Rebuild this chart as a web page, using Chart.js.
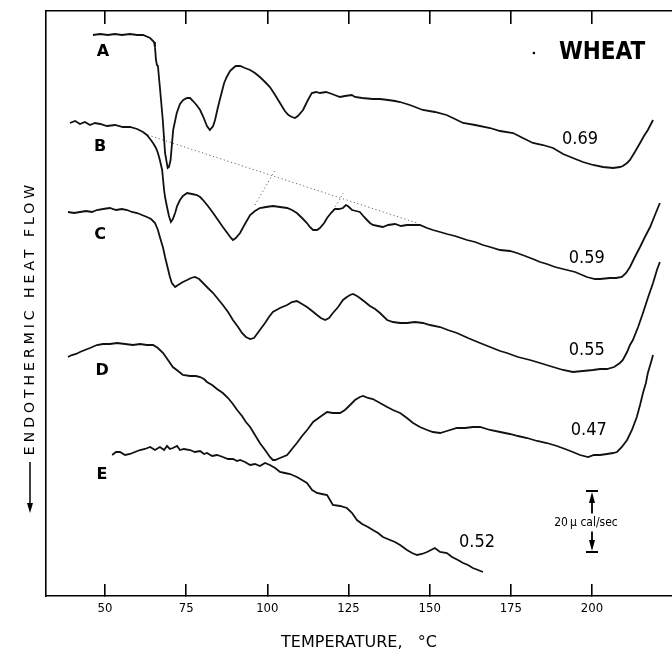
<!DOCTYPE html>
<html><head><meta charset="utf-8">
<script src="https://cdn.jsdelivr.net/npm/chart.js@4/dist/chart.umd.min.js"></script>
<style>html,body{margin:0;padding:0;background:#fff}</style>
</head><body>
<canvas id="c" width="672" height="656" style="width:672px;height:656px;display:block"></canvas>
<script>
// Temperature (°C) and relative endothermic heat flow (arbitrary units, offset per curve)
const tempA=[46.3,48.5,50.9,53.1,55.2,57.7,59.9,61.7,63.9,65.1,65.4,65.7,66.0,66.3,66.9,67.8,68.5,69.3,69.7,70.2,71.0,72.1,73.1,74.1,75.3,76.2,77.1,78.2,79.3,80.3,81.4,82.3,83.3,83.9,84.8,85.9,86.7,87.5,88.5,89.5,90.3,91.6,93.1,94.7,96.2,97.7,99.3,100.8,102.4,103.9,105.4,106.5,107.6,108.5,109.4,111.0,112.5,113.7,115.0,116.2,118.1,119.9,122.4,123.9,126.0,127.0,129.2,132.5,134.7,137.2,139.3,140.9,143.9,147.9,151.6,155.2,157.8,160.3,164.0,168.6,171.7,175.7,178.7,181.8,184.9,188.0,191.1,194.1,197.2,200.3,203.4,206.5,208.6,209.5,210.8,211.7,213.2,214.8,216.0,217.2,218.8];
const flowA=[561,562,561,562,561,562,561,561,558,554,549,536,531,530,509,476,443,428,429,436,466,483,492,496,498,498,495,491,486,479,470,466,470,476,489,503,513,519,525,528,530,530,528,526,523,519,514,509,501,493,485,481,479,478,480,486,496,503,504,503,504,502,499,500,501,499,498,497,497,496,495,494,491,486,484,481,477,473,471,468,465,463,458,453,451,448,442,438,434,431,429,428,429,430,433,436,444,453,460,466,476];
const tempB=[39.2,40.8,42.3,43.8,45.4,46.9,48.5,50.6,53.1,55.5,57.7,59.9,61.7,62.9,63.9,64.8,65.7,66.3,66.9,67.6,67.9,68.2,68.5,69.1,69.7,70.3,70.9,71.6,72.2,73.1,74.0,75.3,76.8,78.3,79.3,80.2,81.7,83.3,84.8,86.3,87.9,88.8,89.4,90.3,91.6,93.1,94.7,96.2,97.7,99.6,101.7,103.9,106.1,107.6,109.1,110.7,112.2,113.1,114.1,115.3,116.2,117.5,118.4,119.6,120.8,122.1,123.3,124.2,124.8,126.1,127.3,128.5,129.8,130.7,131.6,132.5,134.1,135.6,137.2,139.3,141.2,143.0,145.5,147.0,149.2,151.0,153.2,155.3,157.8,161.5,164.0,166.4,168.6,171.7,174.7,176.9,179.4,181.8,184.0,186.1,188.6,192.3,194.8,198.4,200.9,202.5,205.5,207.4,209.2,210.5,211.7,213.2,214.8,216.3,217.9,219.4,220.9];
const flowB=[473,475,472,474,471,473,472,470,471,469,469,467,464,461,457,453,448,443,436,426,416,406,399,389,380,374,377,383,390,396,400,403,402,401,399,396,390,383,376,369,362,358,356,358,363,372,381,385,388,389,390,389,388,386,383,378,373,369,366,366,368,373,378,383,387,387,388,391,390,386,385,384,379,376,373,371,370,369,371,372,370,371,371,371,368,366,364,362,360,356,354,351,349,346,345,343,340,337,334,332,329,326,324,319,317,317,318,318,319,323,329,339,349,359,369,381,393];
const tempC=[38.6,40.5,42.3,44.2,46.0,47.5,49.4,51.5,53.4,55.2,56.8,58.3,59.9,61.4,62.9,64.2,65.4,66.3,66.9,67.9,68.5,69.4,70.0,70.6,71.6,72.5,74.0,75.3,76.5,77.7,79.0,80.2,81.7,83.3,84.8,86.3,87.9,89.4,91.0,92.2,93.4,94.7,95.9,96.8,97.7,99.3,100.5,101.7,103.9,106.1,107.6,109.1,110.7,112.2,113.8,115.3,116.5,117.8,119.0,120.2,121.8,123.3,124.5,125.5,126.4,127.6,128.5,130.1,131.6,133.2,134.7,136.9,138.7,140.9,143.0,145.5,147.9,150.1,153.2,155.6,158.4,161.8,165.5,168.6,171.7,173.8,177.2,180.9,184.0,188.0,191.1,194.1,197.2,200.3,202.5,204.6,206.8,208.6,209.5,210.8,211.7,212.6,214.2,215.7,217.2,218.8,220.0,220.9];
const flowC=[384,383,384,385,384,386,387,388,386,387,386,384,383,381,379,377,373,366,359,348,339,327,319,313,309,311,314,316,318,319,317,313,308,303,297,291,284,276,269,263,259,257,258,262,266,273,279,284,288,291,294,295,292,289,285,281,278,276,278,283,289,296,299,301,302,300,298,294,290,287,283,276,274,273,273,274,273,271,269,266,263,258,253,249,245,243,239,236,233,229,226,224,225,226,227,227,229,233,236,244,251,256,269,283,298,313,326,334];
const tempD=[38.6,39.8,41.1,42.3,43.8,45.4,47.5,49.4,51.5,53.7,56.2,58.6,60.8,62.9,64.8,66.3,67.9,69.4,70.9,72.5,74.0,76.2,78.0,79.3,80.5,81.4,83.0,84.5,86.3,87.9,89.4,90.7,92.2,93.4,94.7,96.2,97.7,99.3,100.8,101.7,102.4,103.9,106.1,107.6,109.1,110.7,112.5,114.1,116.2,118.4,120.2,122.4,123.9,125.5,127.0,128.5,129.5,131.0,132.5,134.7,136.9,138.7,140.9,143.0,144.9,147.0,149.2,151.0,153.2,155.3,158.4,160.9,163.3,165.5,168.6,171.7,174.7,177.2,180.0,183.1,186.1,189.2,191.7,194.1,196.3,198.8,200.6,202.5,204.6,206.5,207.7,209.2,210.8,212.3,213.8,214.8,215.7,216.6,217.2,218.2,218.8];
const flowD=[239,241,242,244,246,248,251,252,252,253,252,251,252,251,251,248,243,236,229,225,221,220,220,219,217,214,211,207,203,198,192,186,180,174,169,161,153,146,139,136,136,138,141,147,153,160,167,174,179,184,183,183,186,191,196,199,200,198,197,193,189,186,183,178,173,169,166,164,163,165,168,168,169,169,166,164,162,160,158,155,153,150,147,144,141,139,141,141,142,143,144,149,156,166,179,191,203,213,223,234,241];
const tempE=[52.2,53.4,54.6,56.2,57.7,59.2,60.8,62.3,63.9,65.4,66.9,68.2,69.1,70.0,70.9,72.2,73.1,74.3,76.2,77.7,79.3,80.5,81.4,83.0,84.5,86.3,87.9,89.4,90.7,91.6,93.1,94.7,96.2,97.7,99.3,100.8,102.4,103.9,105.4,107.0,109.1,110.7,112.2,113.8,115.3,116.8,118.4,119.3,120.2,122.4,124.5,126.1,127.6,129.2,131.0,132.5,134.1,135.6,137.8,139.3,140.9,143.0,144.6,146.1,147.6,149.2,150.4,151.6,153.2,155.3,156.9,158.7,160.3,161.8,163.3,164.9,166.4];
const flowE=[141,144,144,141,142,144,146,147,149,146,149,146,150,147,148,150,146,147,146,144,145,142,143,140,141,139,137,137,135,136,134,131,132,130,133,131,128,124,123,122,119,116,113,106,103,102,101,96,91,90,88,83,76,72,69,66,63,59,56,54,51,46,43,41,42,44,46,48,44,43,39,36,33,31,28,26,24];

// Dotted baseline constructions on curve B
const baseTemps1=[63.2,146.1], baseFlows1=[461,373];
const baseTemps2=[96.2,102.4], baseFlows2=[391,426];
const baseTemps3=[120.3,123.4], baseFlows3=[386,403];

// Axis ticks and labels
const xTicks=[50,75,100,125,150,175,200];
const curveLetters=['A','B','C','D','E'];
const letterTemps=[49.4,48.5,48.5,49.1,49.1];
const letterFlows=[544,449,361,225,121];
const moistureLabels=['0.69','0.59','0.55','0.47','0.52'];
const moistureTemps=[196.3,198.4,198.4,199.0,164.6];
const moistureFlows=[457,338,246,166,54];
// Scale bar: 20 µcal/sec
const barTemp=200, barTop=105, barBottom=44, barText='20\u2009\u03bc cal/sec';
const titleText='WHEAT', titleTemp=203.1, titleFlow=543, dotTemp=182.1;

const X_MIN=31.83, X_MAX=224.64;
const pts=(ts,vs)=>ts.map((t,i)=>({x:t,y:vs[i]}));
const curve=(ts,vs)=>({data:pts(ts,vs),borderColor:'#111',borderWidth:1.8,pointRadius:0,tension:0,fill:false});
const dotted=(ts,vs)=>({data:pts(ts,vs),borderColor:'#666',borderWidth:1,borderDash:[1.2,2.6],pointRadius:0,fill:false});

const annot={
  id:'annot',
  afterDatasetsDraw(chart){
    const {ctx,scales:{x,y},chartArea}=chart;
    ctx.save();
    ctx.fillStyle='#000'; ctx.strokeStyle='#000';
    ctx.textAlign='center'; ctx.textBaseline='middle';
    ctx.font='bold 16px "DejaVu Sans"';
    curveLetters.forEach((t,i)=>ctx.fillText(t,x.getPixelForValue(letterTemps[i]),y.getPixelForValue(letterFlows[i])));
    ctx.font='18px "DejaVu Sans Condensed"';
    moistureLabels.forEach((t,i)=>ctx.fillText(t,x.getPixelForValue(moistureTemps[i]),y.getPixelForValue(moistureFlows[i])));
    ctx.font='bold 24px "DejaVu Sans Condensed"';
    ctx.fillText(titleText,x.getPixelForValue(titleTemp),y.getPixelForValue(titleFlow));
    ctx.beginPath(); ctx.arc(x.getPixelForValue(dotTemp),y.getPixelForValue(titleFlow),1.3,0,Math.PI*2); ctx.fill();
    // scale bar
    const bx=x.getPixelForValue(barTemp), by1=y.getPixelForValue(barTop), by2=y.getPixelForValue(barBottom);
    const mid=(by1+by2)/2;
    ctx.lineWidth=1.8;
    ctx.beginPath();
    ctx.moveTo(bx-6,by1); ctx.lineTo(bx+6,by1);
    ctx.moveTo(bx-6,by2); ctx.lineTo(bx+6,by2);
    ctx.moveTo(bx,by1+8); ctx.lineTo(bx,mid-8);
    ctx.moveTo(bx,mid+10); ctx.lineTo(bx,by2-8);
    ctx.stroke();
    ctx.beginPath();
    ctx.moveTo(bx,by1+1); ctx.lineTo(bx-3,by1+12); ctx.lineTo(bx+3,by1+12); ctx.closePath();
    ctx.moveTo(bx,by2-1); ctx.lineTo(bx-3,by2-12); ctx.lineTo(bx+3,by2-12); ctx.closePath();
    ctx.fill();
    ctx.font='12px "DejaVu Sans Condensed"';
    ctx.fillText(barText,bx-6,mid+1);
    // y axis title with downward arrow
    const cx=chartArea.left-16, cy=318;
    ctx.save();
    ctx.translate(cx,cy); ctx.rotate(-Math.PI/2);
    ctx.font='14px "DejaVu Sans"';
    ctx.letterSpacing='4px';
    ctx.fillText('ENDOTHERMIC HEAT FLOW',0,0);
    ctx.restore();
    ctx.lineWidth=1.5;
    ctx.beginPath(); ctx.moveTo(cx,462); ctx.lineTo(cx,506); ctx.stroke();
    ctx.beginPath(); ctx.moveTo(cx,513); ctx.lineTo(cx-3,503); ctx.lineTo(cx+3,503); ctx.closePath(); ctx.fill();
    ctx.restore();
  }
};

const commonX={type:'linear',min:X_MIN,max:X_MAX,
  afterBuildTicks:s=>{s.ticks=xTicks.map(v=>({value:v}));}};

new Chart(document.getElementById('c'),{
  type:'line',
  data:{datasets:[
    curve(tempA,flowA),curve(tempB,flowB),curve(tempC,flowC),curve(tempD,flowD),curve(tempE,flowE),
    dotted(baseTemps1,baseFlows1),dotted(baseTemps2,baseFlows2),dotted(baseTemps3,baseFlows3)
  ]},
  options:{
    responsive:false,animation:false,devicePixelRatio:1,
    layout:{padding:0},
    plugins:{legend:{display:false},tooltip:{enabled:false}},
    scales:{
      x:Object.assign({},commonX,{position:'bottom',
        afterFit:s=>{s.height=60;},
        grid:{display:true,drawOnChartArea:false,drawTicks:true,tickLength:-12,color:'#000',lineWidth:1.6},
        border:{display:true,color:'#000',width:1.6},
        ticks:{color:'#000',font:{family:'"DejaVu Sans Condensed"',size:13},padding:17,maxRotation:0,autoSkip:false,callback:v=>String(v)},
        title:{display:true,text:'TEMPERATURE,   \u00b0C',color:'#000',font:{family:'"DejaVu Sans"',size:16},padding:{top:0,bottom:4}}
      }),
      x2:Object.assign({},commonX,{position:'top',
        afterFit:s=>{s.height=11;},
        grid:{display:true,drawOnChartArea:false,drawTicks:true,tickLength:-13,color:'#000',lineWidth:1.6},
        border:{display:true,color:'#000',width:1.6},
        ticks:{display:false}
      }),
      y:{type:'linear',min:0,max:585,
        afterFit:s=>{s.width=46;},
        ticks:{display:false},
        grid:{display:false,drawTicks:false},
        border:{display:true,color:'#000',width:1.6}
      }
    }
  },
  plugins:[annot]
});
</script>
</body></html>
